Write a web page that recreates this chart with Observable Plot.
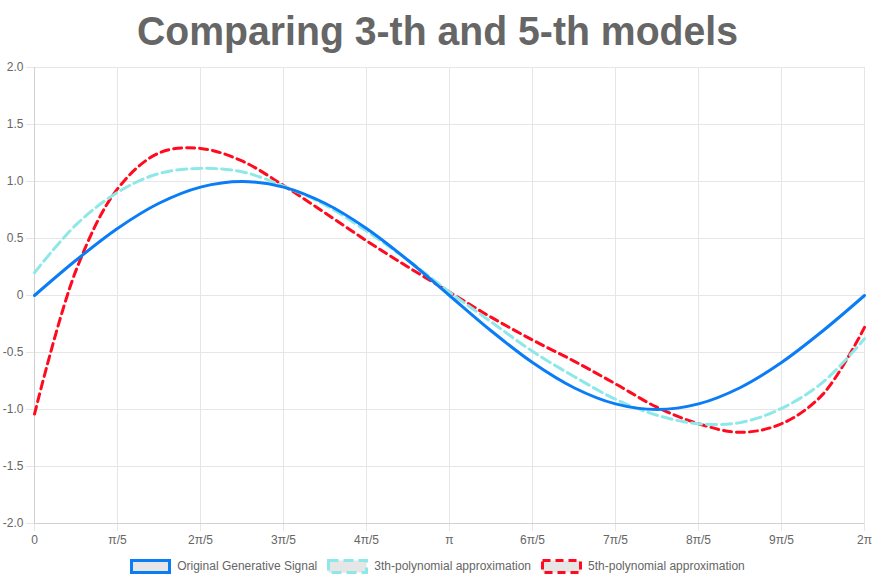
<!DOCTYPE html>
<html>
<head>
<meta charset="utf-8">
<script src="https://cdn.jsdelivr.net/npm/d3@7"></script>
<script src="https://cdn.jsdelivr.net/npm/@observablehq/plot@0.6"></script>
<style>
  html, body { margin: 0; padding: 0; background: #fff; }
  body { width: 875px; height: 583px; overflow: hidden; font-family: "Liberation Sans", Arial, Helvetica, sans-serif; }
  #title { display: block; }
  #legend { display: flex; justify-content: center; align-items: center; height: 30px; font-size: 12px; color: #666; }
  .item { display: flex; align-items: center; margin: 0 5px; }
  .item svg { margin-right: 6px; display: block; }
</style>
</head>
<body>
<svg id="title" width="875" height="55">
  <text x="437.5" y="45" text-anchor="middle" font-family="Liberation Sans, Arial, sans-serif" font-weight="bold" font-size="40" fill="#666" textLength="601" lengthAdjust="spacingAndGlyphs">Comparing 3-th and 5-th models</text>
</svg>
<div id="chart"></div>
<div id="legend"></div>
<script>
// x positions in units of π/10 (0 … 20 → 0 … 2π)
const steps = [0,1,2,3,4,5,6,7,8,9,10,11,12,13,14,15,16,17,18,19,20];
const signal = [0, 0.309, 0.588, 0.809, 0.951, 1.0, 0.951, 0.809, 0.588, 0.309, 0, -0.309, -0.588, -0.809, -0.951, -1.0, -0.951, -0.809, -0.588, -0.309, 0];
const poly3 = [0.20, 0.62, 0.905, 1.07, 1.115, 1.085, 0.96, 0.795, 0.565, 0.31, 0.03, -0.23, -0.49, -0.71, -0.91, -1.05, -1.125, -1.115, -0.99, -0.76, -0.38];
const poly5 = [-1.04, 0.22, 0.935, 1.25, 1.29, 1.18, 0.965, 0.725, 0.48, 0.25, 0.03, -0.19, -0.39, -0.575, -0.775, -0.98, -1.125, -1.20, -1.125, -0.865, -0.28];

const xTicks = [0, 2, 4, 6, 8, 10, 12, 14, 16, 18, 20];
const xLabels = ["0", "π/5", "2π/5", "3π/5", "4π/5", "π", "6π/5", "7π/5", "8π/5", "9π/5", "2π"];
const yTicks = [-2, -1.5, -1, -0.5, 0, 0.5, 1, 1.5, 2];
const yLabels = ["-2.0", "-1.5", "-1.0", "-0.5", "0", "0.5", "1.0", "1.5", "2.0"];

const seriesNames = ["Original Generative Signal", "3th-polynomial approximation", "5th-polynomial approximation"];
const seriesColors = ["#0a7cf5", "#8ee8e8", "#ff0a1e"];
const seriesDash = [null, "10,5", "8,5"];

const toRows = (vals) => steps.map((k, i) => ({k, v: vals[i]}));
const rowsSignal = toRows(signal), rows3 = toRows(poly3), rows5 = toRows(poly5);

const grid = "#e6e6e6";
const chart = Plot.plot({
  width: 875,
  height: 496,
  marginLeft: 34,
  marginRight: 11,
  marginTop: 12,
  marginBottom: 28,
  style: {fontFamily: "Liberation Sans, Arial, sans-serif", fontSize: "12px", color: "#666", background: "#fff"},
  x: {domain: [0, 20], label: null},
  y: {domain: [-2, 2], label: null},
  marks: [
    Plot.gridX(xTicks, {stroke: grid, strokeOpacity: 1}),
    Plot.gridY(yTicks, {stroke: grid, strokeOpacity: 1}),
    Plot.axisX({ticks: xTicks, label: null, tickSize: 8, tickPadding: 4, stroke: grid, fill: "#666", fontSize: 12,
      tickFormat: d => xLabels[xTicks.indexOf(d)]}),
    Plot.axisY({ticks: yTicks, label: null, tickSize: 8, tickPadding: 3, stroke: grid, fill: "#666", fontSize: 12,
      tickFormat: d => yLabels[yTicks.indexOf(d)]}),
    Plot.ruleX([0], {stroke: "#d2d2d2"}),
    Plot.ruleY([-2], {stroke: "#d2d2d2"}),
    Plot.line(rows5, {x: "k", y: "v", stroke: seriesColors[2], strokeWidth: 3, strokeDasharray: seriesDash[2], curve: "catmull-rom"}),
    Plot.line(rows3, {x: "k", y: "v", stroke: seriesColors[1], strokeWidth: 3, strokeDasharray: seriesDash[1], curve: "catmull-rom"}),
    Plot.line(rowsSignal, {x: "k", y: "v", stroke: seriesColors[0], strokeWidth: 3, curve: "catmull-rom"})
  ]
});
document.getElementById("chart").appendChild(chart);

const legend = document.getElementById("legend");
seriesNames.forEach((name, i) => {
  const item = document.createElement("div");
  item.className = "item";
  const dash = seriesDash[i] ? ` stroke-dasharray="${seriesDash[i]}"` : "";
  item.innerHTML = `<svg width="41" height="15"><rect x="1.5" y="1.5" width="38" height="12" fill="#e6e6e6" stroke="${seriesColors[i]}" stroke-width="3"${dash}></rect></svg><span>${name}</span>`;
  legend.appendChild(item);
});
</script>
</body>
</html>
